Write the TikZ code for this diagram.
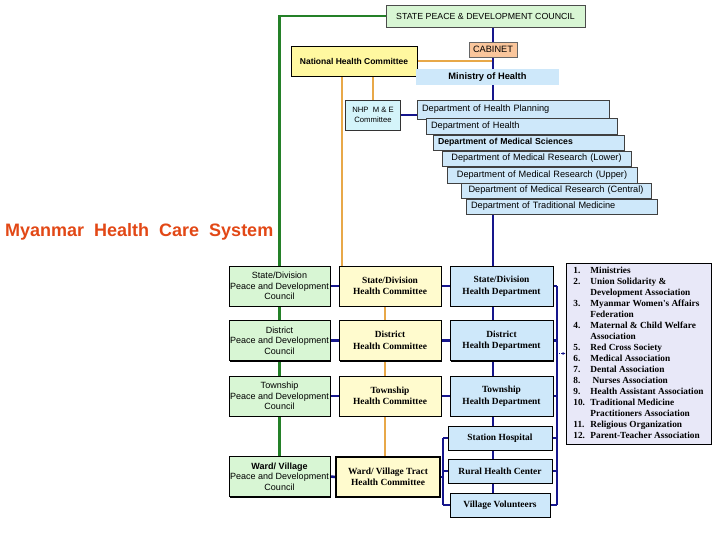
\documentclass[tikz,border=0pt]{standalone}
\usepackage{fontspec}
\setmainfont{Liberation Sans}
\newfontfamily\timesfont{Liberation Serif}
\usepackage{tikz}
\usetikzlibrary{shadows}
\usetikzlibrary{backgrounds}
\usetikzlibrary{arrows.meta}

\definecolor{navyline}{RGB}{22,22,140}
\definecolor{orangeline}{RGB}{232,168,72}
\definecolor{greenline}{RGB}{36,128,40}
\definecolor{titlered}{RGB}{226,72,22}
\definecolor{pdcgreen}{RGB}{216,246,212}
\definecolor{hcyellow}{RGB}{255,251,206}
\definecolor{hdblue}{RGB}{206,232,250}
\definecolor{nhcyellow}{RGB}{255,248,160}
\definecolor{cabpeach}{RGB}{250,198,156}
\definecolor{nhpcyan}{RGB}{212,244,250}
\definecolor{listlilac}{RGB}{232,232,248}

\newcommand\fsz[2]{\fontsize{#1}{#2}\selectfont}

\begin{document}
\begin{tikzpicture}[x=1pt,y=-1pt,
    box/.style={rectangle, inner sep=0pt, draw=black, align=center},
    gridbox/.style={box, line width=0.7pt,
      drop shadow={shadow xshift=1.2pt, shadow yshift=-1.2pt, fill=black, opacity=1}},
    pdcbox/.style={gridbox, fill=pdcgreen, minimum width=101, minimum height=40, font=\fsz{9}{10.5}},
    hcbox/.style={gridbox, fill=hcyellow, minimum width=102, minimum height=40, font=\timesfont\bfseries\fsz{9.4}{11.5}},
    hdbox/.style={gridbox, fill=hdblue, minimum width=103, minimum height=40, font=\timesfont\bfseries\fsz{9.4}{11.5}},
    unitbox/.style={hdbox, minimum width=104, minimum height=24},
    deptbox/.style={rectangle, fill=hdblue, draw=black!75, line width=0.5pt, inner ysep=0pt,
      inner xsep=5pt, align=left, minimum height=15, font=\fsz{9.2}{10}},
    blueline/.style={draw=navyline, line width=2.6pt},
    orline/.style={draw=orangeline, line width=2.6pt},
    grline/.style={draw=greenline, line width=2.4pt}]
  \useasboundingbox (0,0) rectangle (720,540);

  % top of the system
  \node[box, fill=pdcgreen, draw=black!70, minimum width=199, minimum height=22, font=\fsz{8.8}{10}] (spdc) at (485.5,16) {STATE PEACE \& DEVELOPMENT COUNCIL};
  \node[box, fill=cabpeach, draw=black!60, minimum width=48, minimum height=15, font=\fsz{9.2}{10}] (cabinet) at (493,49.5) {CABINET};
  \node[gridbox, fill=nhcyellow, minimum width=126, minimum height=30, font=\bfseries\fsz{8.5}{10}] (nhc) at (354,61) {National Health Committee};
  \node[rectangle, inner sep=0pt, fill=hdblue, minimum width=143, minimum height=16, font=\bfseries\fsz{9.3}{10}] (moh) at (487.5,77) {Ministry of Health};
  \node[box, fill=nhpcyan, draw=black!80, minimum width=55, minimum height=30, font=\fsz{7.7}{9.5}] (nhp) at (373,115) {NHP\ \ M \& E\\Committee};

  % departments of the ministry
  \node[deptbox, text width=182, minimum height=19] (dhp) at (513,109.5) {Department of Health Planning};
  \node[deptbox, text width=181, minimum height=16] (doh) at (521.5,126) {Department of Health};
  \node[deptbox, text width=181, font=\bfseries\fsz{8.7}{10}] (dms) at (528.5,142.5) {Department of Medical Sciences};
  \node[deptbox, text width=179, align=center] (dmrl) at (536.5,158.5) {Department of Medical Research (Lower)};
  \node[deptbox, text width=180, minimum height=16, align=center] (dmru) at (542,175) {Department of Medical Research (Upper)};
  \node[deptbox, text width=180, align=center] (dmrc) at (556,190.5) {Department of Medical Research (Central)};
  \node[deptbox, text width=181] (dtm) at (561.5,206.5) {Department of Traditional Medicine};

  \node[anchor=west, inner sep=0pt, text=titlered, font=\bfseries\fsz{18}{20}] (title) at (5,232) {Myanmar\ \ Health\ \ Care\ \ System};

  % state/division, district, township, ward rows
  \node[pdcbox] (pdc1) at (279.5,286) {State/Division\\Peace and Development\\Council};
  \node[hcbox] (hc1) at (390,286) {State/Division\\Health Committee};
  \node[hdbox] (hd1) at (501.5,286) {State/Division\\Health Department};
  \node[pdcbox] (pdc2) at (279.5,340.5) {District\\Peace and Development\\Council};
  \node[hcbox] (hc2) at (390,340.5) {District\\Health Committee};
  \node[hdbox] (hd2) at (501.5,340.5) {District\\Health Department};
  \node[pdcbox] (pdc3) at (279.5,396) {Township\\Peace and Development\\Council};
  \node[hcbox] (hc3) at (390,396) {Township\\Health Committee};
  \node[hdbox] (hd3) at (501.5,396) {Township\\Health Department};
  \node[pdcbox] (pdc4) at (279.5,476.5) {\textbf{Ward/ Village}\\Peace and Development\\Council};
  \node[hcbox, minimum width=104, line width=1.3pt] (hc4) at (388,477) {Ward/ Village Tract\\Health Committee};
  \node[unitbox] (sh) at (500,438) {Station Hospital};
  \node[unitbox] (rhc) at (500,471) {Rural Health Center};
  \node[unitbox, minimum width=100] (vv) at (500,505) {Village Volunteers};

  % partner organizations
  \node[box, fill=listlilac, line width=0.7pt, minimum width=145, minimum height=181,
    font=\timesfont\bfseries\fsz{9.3}{11}] (orgs) at (638.5,353.5) {%
    \begin{tabular}{@{}p{17pt}@{}l@{}}
      1. & Ministries\\
      2. & Union Solidarity \&\\
         & Development Association\\
      3. & Myanmar Women's Affairs\\
         & Federation\\
      4. & Maternal \& Child Welfare\\
         & Association\\
      5. & Red Cross Society\\
      6. & Medical Association\\
      7. & Dental Association\\
      8. & \ Nurses Association\\
      9. & Health Assistant Association\\
      10. & Traditional Medicine\\
          & Practitioners Association\\
      11. & Religious Organization\\
      12. & Parent-Teacher Association
    \end{tabular}};

  \coordinate (spine) at (493,0);
  \coordinate (ohx) at (342,0);
  \coordinate (ocx) at (385,0);
  \coordinate (rbar) at (557,0);
  \coordinate (lbar) at (443,0);

  \begin{scope}[on background layer]
    % green: peace and development councils
    \draw[grline] (spdc.west) -| (pdc1.north);
    \draw[grline] (pdc1.south) -- (pdc2.north);
    \draw[grline] (pdc2.south) -- (pdc3.north);
    \draw[grline] (pdc3.south) -- (pdc4.north);
    % orange: health committees
    \draw[orline] (nhc.east) -- (nhc.east -| spine);
    \draw[orline] (nhc.south -| nhp.north) -- (nhp.north);
    \draw[orline] (nhc.south -| ohx) -- (hc1.north -| ohx);
    \draw[orline] (hc1.south -| ocx) -- (hc2.north -| ocx);
    \draw[orline] (hc2.south -| ocx) -- (hc3.north -| ocx);
    \draw[orline] (hc3.south -| ocx) -- (hc4.north -| ocx);
    % blue: ministry line
    \draw[blueline] (spdc.south -| spine) -- (hd1.north -| spine);
    \draw[blueline] (nhp.east) -- (nhp.east -| dhp.west);
    \draw[blueline] (hd1.south -| spine) -- (hd2.north -| spine);
    \draw[blueline] (hd2.south -| spine) -- (hd3.north -| spine);
    \draw[blueline] (hd3.south -| spine) -- (sh.north -| spine);
    \draw[blueline] (sh.south -| spine) -- (rhc.north -| spine);
    \draw[blueline] (rhc.south -| spine) -- (vv.north -| spine);
    \foreach \i in {1,...,4} { \draw[blueline] (pdc\i.east) -- (hc\i.west); }
    \foreach \i in {1,...,3} { \draw[blueline] (hc\i.east) -- (hd\i.west); }
    % brackets
    \foreach \n in {hd1,hd2,hd3,sh,rhc,vv} { \draw[blueline] (\n.east) -- (\n.east -| rbar); }
    \draw[blueline] (hd1.east -| rbar) -- (vv.east -| rbar);
    \foreach \n in {sh,rhc,vv} { \draw[blueline] (\n.west) -- (\n.west -| lbar); }
    \draw[blueline] (sh.west -| lbar) -- (vv.west -| lbar);
    \draw[blueline] (hc4.east) -- (hc4.east -| lbar);
  \end{scope}
  \draw[navyline, line width=1.2pt, densely dotted, -{Latex[length=3pt,width=3pt]}] (orgs.west -| rbar) -- (orgs.west);
\end{tikzpicture}
\end{document}
